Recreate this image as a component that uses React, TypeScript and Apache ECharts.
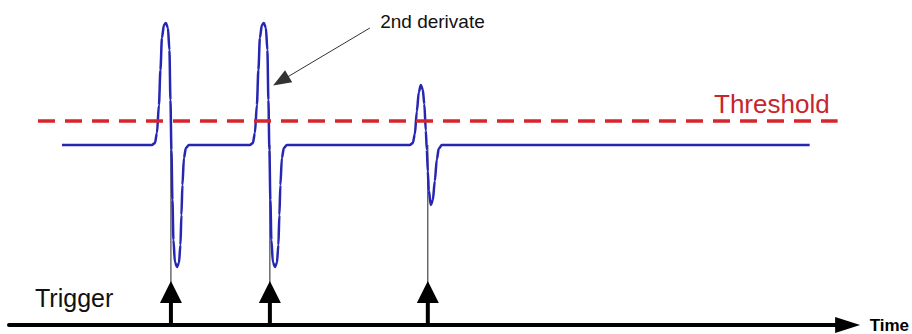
import { useEffect, useRef } from 'react';
import * as echarts from 'echarts';

const FONT = '"Liberation Sans", Arial, Helvetica, sans-serif';

// Signal (2nd derivative) – time units, amplitude units (threshold = 1)
const baselineStart: [number, number][] = [[53, 0]];
const pulse1: [number, number][] = [
  [143, 0], [146, 0.08], [148, 0.5], [150, 1.67], [151.5, 3.13], [153, 4.46], [155, 5.0], [157, 5.08],
  [159, 4.88], [160.5, 3.96], [161.5, 1.88], [162.5, -0.21], [163.5, -2.29], [164.5, -3.96], [166, -4.88],
  [168, -5.08], [170, -4.92], [171.5, -4.17], [172.5, -2.92], [173.5, -1.67], [175, -0.54], [177, -0.13], [180, 0],
];
const pulse2: [number, number][] = [
  [241, 0], [244, 0.08], [246, 0.5], [248, 1.67], [249.5, 3.13], [251, 4.46], [253, 5.0], [255, 5.08],
  [257, 4.88], [258.5, 3.96], [259.5, 1.88], [260.5, -0.21], [261.5, -2.29], [262.5, -3.96], [264, -4.88],
  [266, -5.08], [268, -4.92], [269.5, -4.17], [270.5, -2.92], [271.5, -1.67], [273, -0.54], [275, -0.13], [278, 0],
];
const pulse3: [number, number][] = [
  [401, 0], [404, 0.08], [406, 0.45], [408, 1.4], [410, 2.2], [412, 2.5], [414, 2.3], [415.5, 1.7],
  [417, 0.6], [418, -0.2], [419, -1.1], [420, -1.9], [422, -2.5], [424, -2.3], [426, -1.5], [428, -0.6],
  [430, -0.15], [433, 0],
];
const baselineEnd: [number, number][] = [[801, 0]];

const triggerTimes = [162, 261, 419];
const thresholdLevel = 1;
const thresholdStart = 29;
const thresholdEnd = 829;
const timeMin = 0;
const timeMax = 839;
const ampMin = -7.5;
const ampMax = 6;
const arrowTipAmp = -5.67;
const arrowBaseAmp = -6.58;
const annotationFrom: [number, number] = [361, 4.875];
const annotationTo: [number, number] = [272, 2.67];

export default function App() {
  const ref = useRef<HTMLDivElement>(null);
  useEffect(() => {
    document.body.style.margin = '0';
    const chart = echarts.init(ref.current!, null, { renderer: 'svg' });
    const signal = [...baselineStart, ...pulse1, ...pulse2, ...pulse3, ...baselineEnd];
    chart.setOption({
      animation: false,
      backgroundColor: '#ffffff',
      grid: { left: 9, right: 64, top: 1, bottom: 9 },
      xAxis: {
        type: 'value',
        min: timeMin,
        max: timeMax,
        axisLine: {
          show: true,
          onZero: false,
          symbol: ['none', 'triangle'],
          symbolSize: [16, 25],
          lineStyle: { color: '#000', width: 4 },
        },
        axisTick: { show: false },
        axisLabel: { show: false },
        splitLine: { show: false },
        name: 'Time',
        nameLocation: 'end',
        nameGap: 22,
        nameTextStyle: {
          fontSize: 17,
          fontWeight: 'bold',
          color: '#000',
          fontFamily: FONT,
          padding: [0, 0, 12, 0],
        },
      },
      yAxis: { type: 'value', min: ampMin, max: ampMax, show: false },
      graphic: [
        {
          type: 'text',
          x: 35,
          y: 297.5,
          style: {
            text: 'Trigger',
            fontSize: 25,
            fontFamily: FONT,
            fill: '#111',
            verticalAlign: 'middle',
          },
        },
      ],
      series: [
        {
          type: 'custom',
          z: 1,
          clip: false,
          silent: true,
          data: triggerTimes.map((t) => [t, 0]),
          renderItem: (_params: any, api: any) => {
            const t = api.value(0);
            const top = api.coord([t, 0]);
            const tip = api.coord([t, arrowTipAmp]);
            const base = api.coord([t, arrowBaseAmp]);
            const foot = api.coord([t, ampMin]);
            return {
              type: 'group',
              children: [
                {
                  type: 'line',
                  shape: { x1: top[0], y1: top[1], x2: tip[0], y2: tip[1] + 4 },
                  style: { stroke: '#222', lineWidth: 1 },
                },
                {
                  type: 'line',
                  shape: { x1: base[0], y1: base[1] - 1, x2: foot[0], y2: foot[1] },
                  style: { stroke: '#000', lineWidth: 4 },
                },
                {
                  type: 'polygon',
                  shape: { points: [[tip[0], tip[1]], [base[0] - 11, base[1]], [base[0] + 11, base[1]]] },
                  style: { fill: '#000' },
                },
              ],
            };
          },
        },
        {
          type: 'line',
          z: 3,
          silent: true,
          data: signal,
          symbol: 'none',
          showSymbol: false,
          smooth: 0.3,
          smoothMonotone: 'x',
          lineStyle: { color: '#2626b2', width: 2.5 },
          markLine: {
            silent: true,
            symbol: ['none', 'none'],
            animation: false,
            data: [
              [
                {
                  coord: [thresholdStart, thresholdLevel],
                  lineStyle: { color: '#d7252b', width: 3.5, type: [17, 10] },
                  label: {
                    show: true,
                    position: 'insideEndTop',
                    formatter: 'Threshold',
                    fontSize: 26,
                    fontFamily: FONT,
                    color: '#c5262c',
                    distance: [8, 4],
                  },
                },
                { coord: [thresholdEnd, thresholdLevel] },
              ],
              [
                {
                  coord: annotationFrom,
                  symbol: 'none',
                  lineStyle: { color: '#333', width: 1, type: 'solid' },
                  label: {
                    show: true,
                    position: 'start',
                    formatter: '2nd derivate',
                    fontSize: 19,
                    fontFamily: FONT,
                    color: '#111',
                    distance: 12,
                  },
                },
                { coord: annotationTo, symbol: 'triangle', symbolSize: [14, 18] },
              ],
            ],
          },
        },
      ],
    });
    return () => chart.dispose();
  }, []);
  return <div ref={ref} style={{ width: 912, height: 334 }} />;
}
